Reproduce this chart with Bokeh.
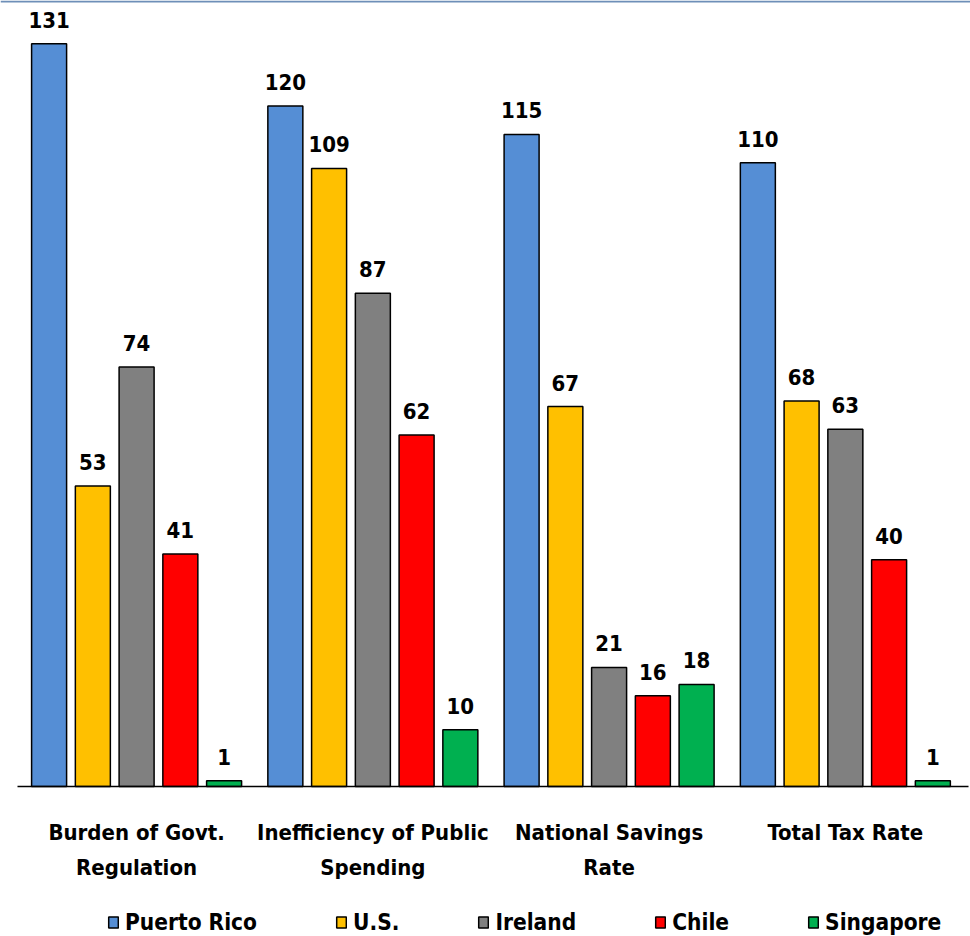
from bokeh.plotting import figure
from bokeh.models import Range1d, Span, Legend, LegendItem, ColumnDataSource
from bokeh.core.properties import value
from bokeh.embed import file_html
from bokeh.resources import INLINE

# ---- data ----
categories = ["Burden of Govt.\nRegulation", "Inefficiency of Public\nSpending",
              "National Savings\nRate", "Total Tax Rate"]
series_names = ["Puerto Rico", "U.S.", "Ireland", "Chile", "Singapore"]
puerto_rico = [131, 120, 115, 110]
us = [53, 109, 67, 68]
ireland = [74, 87, 21, 63]
chile = [41, 62, 16, 40]
singapore = [1, 10, 18, 1]
series_values = [puerto_rico, us, ireland, chile, singapore]
colors = ["#558ED5", "#FFC000", "#808080", "#FF0000", "#00B050"]

# ---- layout / style ----
W, H = 970, 936
PX_PER_CAT = 236.25
PX_PER_UNIT = 5.67
BASE_PX = 786
FIRST_CENTER_PX = 136.1
BAR_W = 35 / PX_PER_CAT
PITCH = 43.75 / PX_PER_CAT
FONT = "DejaVu Sans Condensed"
AXIS_LEFT_PX, AXIS_RIGHT_PX = 17, 968

x_start = 0.5 - FIRST_CENTER_PX / PX_PER_CAT
x_end = x_start + W / PX_PER_CAT
y_end = BASE_PX / PX_PER_UNIT
y_start = y_end - H / PX_PER_UNIT

p = figure(width=W, height=H, x_range=Range1d(x_start, x_end),
           y_range=Range1d(y_start, y_end), output_backend="svg",
           toolbar_location=None, x_axis_location=None, y_axis_location=None,
           min_border=0)
p.outline_line_color = None
p.xgrid.visible = False
p.ygrid.visible = False
p.background_fill_color = "white"
p.border_fill_color = "white"

items = []
for k, (name, vals, col) in enumerate(zip(series_names, series_values, colors)):
    xs = [i + 0.5 + (k - 2) * PITCH for i in range(len(categories))]
    src = ColumnDataSource(dict(x=xs, top=vals, label=[str(v) for v in vals]))
    r = p.vbar(x="x", top="top", bottom=0, width=BAR_W, source=src,
               fill_color=col, line_color="black", line_width=1.5)
    p.text(x="x", y="top", text="label", source=src, text_align="center",
           text_baseline="alphabetic", y_offset=-24, text_font=value(FONT),
           text_font_style="bold", text_font_size="22px", text_color="black")
    items.append(LegendItem(label=name, renderers=[r]))

cat_src = ColumnDataSource(dict(x=[i + 0.5 for i in range(len(categories))],
                                y=[0] * len(categories), text=categories))
p.text(x="x", y="y", text="text", source=cat_src, text_align="center",
       text_baseline="top", y_offset=33, text_font=value(FONT),
       text_font_style="bold", text_font_size="22px", text_line_height=1.42,
       text_color="black")

# axis line
p.segment(x0=[x_start + AXIS_LEFT_PX / PX_PER_CAT], x1=[x_start + AXIS_RIGHT_PX / PX_PER_CAT],
          y0=[0], y1=[0], line_color="black", line_width=1.5)
# top border line
p.add_layout(Span(location=y_end - 1 / PX_PER_UNIT, dimension="width",
                  line_color="#6E8FB8", line_width=2))

legend = Legend(items=items, orientation="horizontal", location=(107, 1),
                glyph_width=12, glyph_height=14, label_standoff=6, spacing=78,
                padding=0, margin=0, border_line_color=None,
                background_fill_alpha=0, label_text_font=FONT,
                label_text_font_style="bold", label_text_font_size="22.5px",
                label_text_color="black")
p.add_layout(legend)

open("out.html", "w").write(file_html(p, INLINE))
